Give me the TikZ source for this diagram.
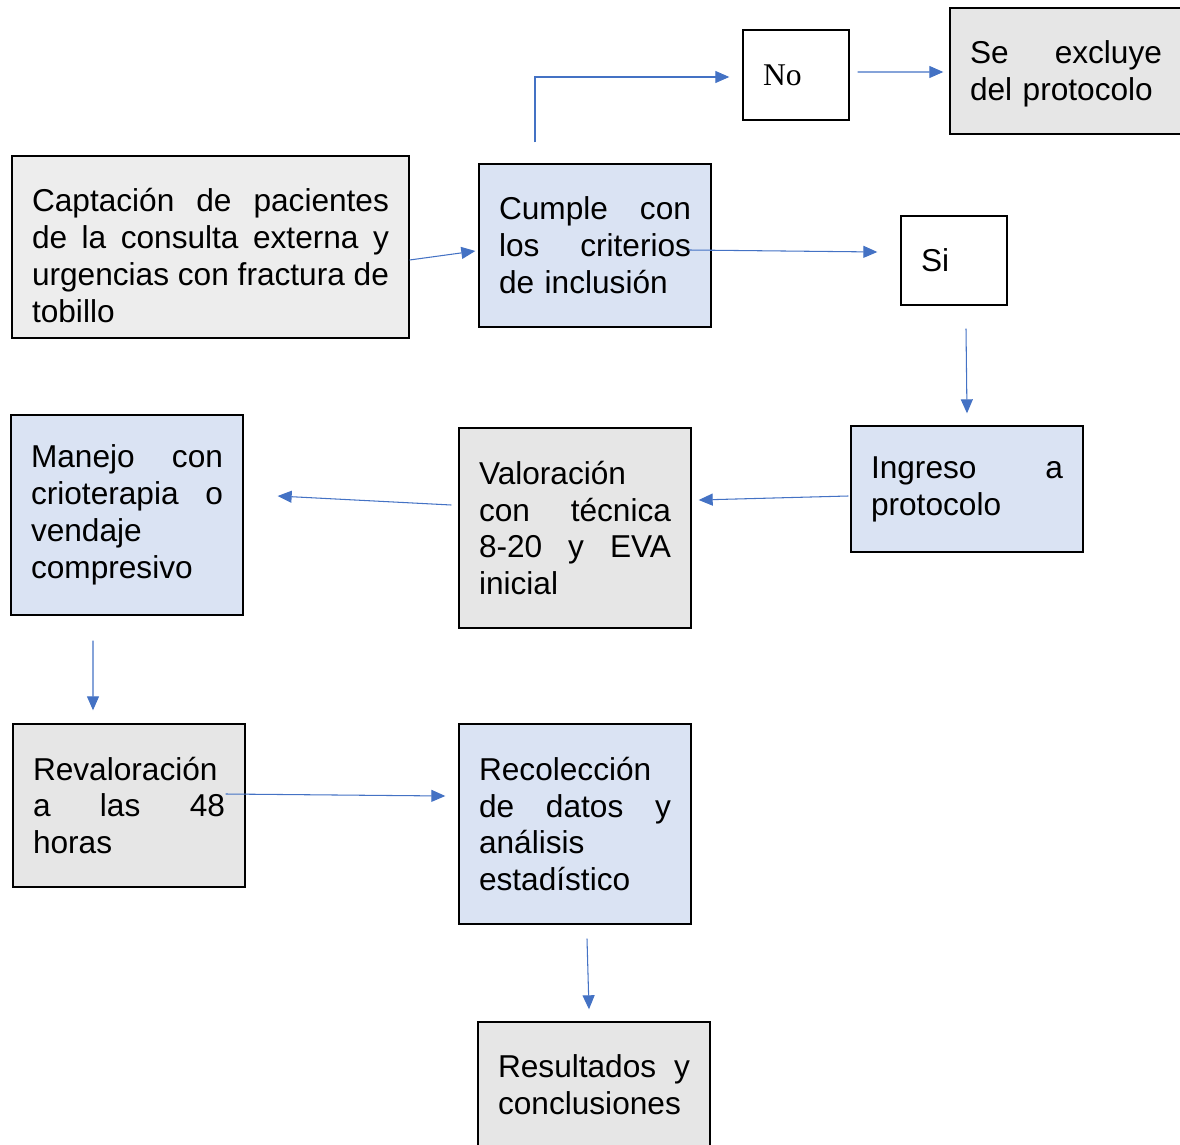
\documentclass[tikz,border=0pt]{standalone}
\usepackage{fontspec}
\setmainfont{Liberation Sans}
\newfontfamily\timesfont{Liberation Serif}
\usetikzlibrary{positioning}
\usetikzlibrary{arrows.meta}
\definecolor{boxblue}{HTML}{DAE3F3}
\definecolor{boxgray}{HTML}{E6E6E6}
\definecolor{boxlight}{HTML}{EDEDED}
\definecolor{arrowblue}{HTML}{4472C4}
\tikzstyle{block} = [rectangle, draw, line width=0.8pt, text width=3.84cm, inner xsep=0.4cm, align=left, font=\fontsize{18}{21}\selectfont]
\tikzstyle{blueblock} = [block, fill=boxblue]
\tikzstyle{grayblock} = [block, fill=boxgray]
\tikzstyle{answer} = [block, text width=1.32cm, minimum height=1.8cm]
\tikzstyle{line} = [draw, arrowblue, line width=0.6pt, -{Triangle[length=0.28cm,width=0.24cm]}]

\begin{document}
\begin{tikzpicture}[x=0.02cm, y=-0.02cm]
    \useasboundingbox (0,0) rectangle (1180,1145);
    \node[block, fill=boxlight, text width=7.14cm, minimum height=3.64cm] (CAPT) at (210.5,247)
        {\rule{0pt}{23pt}Captación\hfill de\hfill pacientes\\ de\hfill la\hfill consulta\hfill externa\hfill y\\ urgencias\hfill con\hfill fractura\hfill de\\ tobillo};
    \node[blueblock, minimum height=3.26cm] (CUMPLE) at (595,245.5) {Cumple\hfill con\\ los\hfill criterios\\ de inclusión};
    \node[answer] (NO) at (796,75) {\timesfont No};
    \node[grayblock, minimum height=2.52cm] (EXCL) at (1066,71) {\rule{0pt}{16.5pt}Se\hfill excluye\\ del protocolo};
    \node[answer, minimum height=1.78cm] (SI) at (954,260.5) {Si};
    \node[blueblock, minimum height=2.52cm] (INGRESO) at (967,489) {Ingreso\hfill a\\ protocolo};
    \node[grayblock, minimum height=4cm] (VALOR) at (575,528) {Valoración\\ con\hfill técnica\\ 8-20\hfill y\hfill EVA\\ inicial};
    \node[blueblock, minimum height=4cm] (MANEJO) at (127,515) {Manejo\hfill con\\ crioterapia\hfill o\\ vendaje\\ compresivo};
    \node[grayblock, minimum height=3.26cm] (REVAL) at (129,805.5) {Revaloración\\ a\hfill las\hfill 48\\ horas};
    \node[blueblock, minimum height=4cm] (RECOL) at (575,824) {Recolección\\ de\hfill datos\hfill y\\ análisis\\ estadístico};
    \node[grayblock, minimum height=2.52cm] (RESULT) at (594,1085) {Resultados\hfill y\\ conclusiones};
    \path[line] ([yshift=-0.26cm]CAPT.east) -- ([xshift=-0.06cm,yshift=-0.11cm]CUMPLE.west);
    \path[line] ([xshift=-1.2cm,yshift=0.42cm]CUMPLE.north) |- ([xshift=-0.26cm,yshift=-0.04cm]NO.west);
    \path[line] ([xshift=0.16cm,yshift=0.06cm]NO.east) -- ([xshift=-0.12cm,yshift=-0.02cm]EXCL.west);
    \path[line] ([xshift=-0.46cm,yshift=-0.09cm]CUMPLE.east) -- ([xshift=-0.46cm,yshift=0.17cm]SI.west);
    \path[line] ([xshift=0.24cm,yshift=-0.46cm]SI.south) -- ([yshift=0.24cm]INGRESO.north);
    \path[line] ([xshift=-0.04cm,yshift=-0.14cm]INGRESO.west) -- ([xshift=0.14cm,yshift=0.56cm]VALOR.east);
    \path[line] ([xshift=-0.14cm,yshift=0.46cm]VALOR.west) -- ([xshift=0.68cm,yshift=0.38cm]MANEJO.east);
    \path[line] ([xshift=-0.68cm,yshift=-0.5cm]MANEJO.south) -- ([xshift=-0.72cm,yshift=0.26cm]REVAL.north);
    \path[line] ([xshift=-0.4cm,yshift=0.23cm]REVAL.east) -- ([xshift=-0.26cm,yshift=0.56cm]RECOL.west);
    \path[line] ([xshift=0.24cm,yshift=-0.28cm]RECOL.south) -- ([xshift=-0.1cm,yshift=0.24cm]RESULT.north);
\end{tikzpicture}
\end{document}
